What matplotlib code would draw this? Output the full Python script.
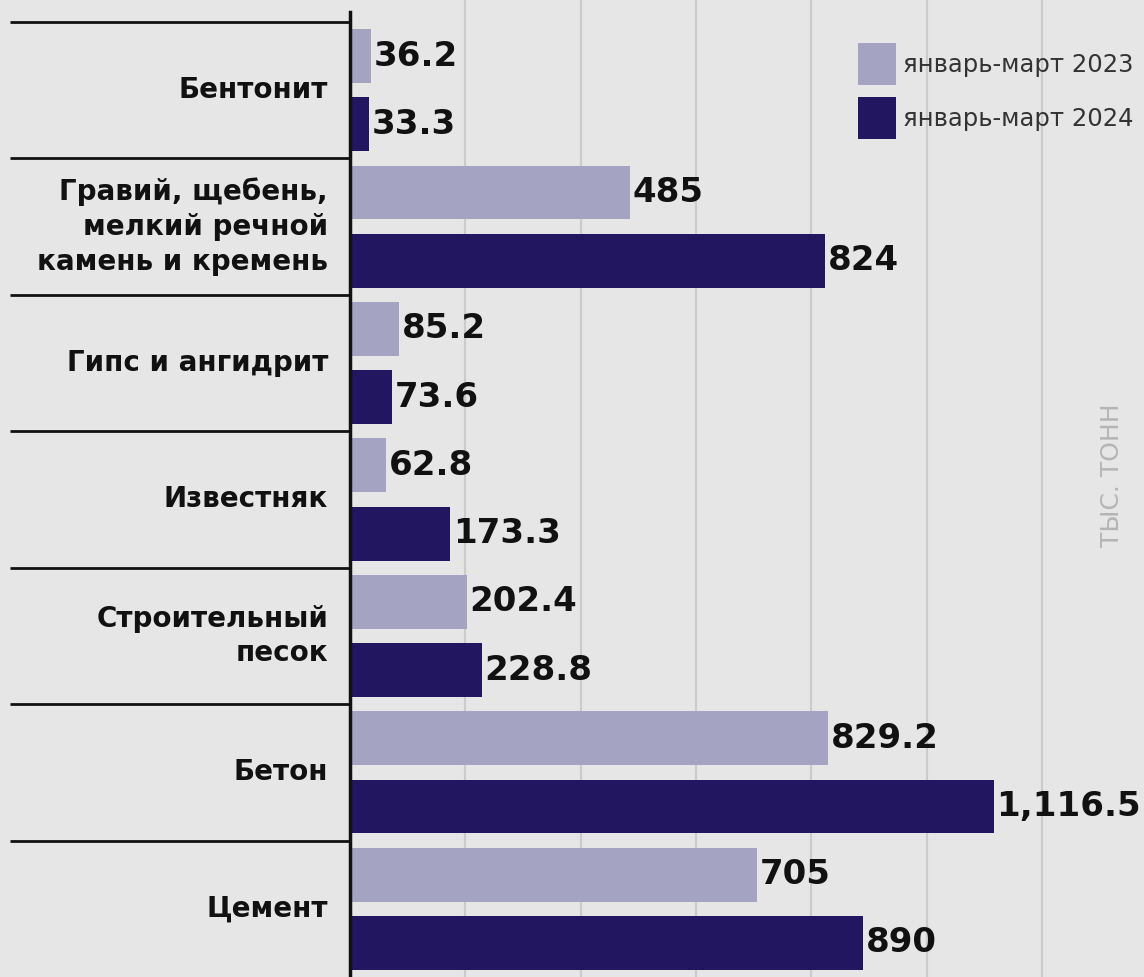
import numpy as np
import matplotlib
matplotlib.use("Agg")
import matplotlib.pyplot as plt

categories = ["Бентонит",
              "Гравий, щебень,\nмелкий речной\nкамень и кремень",
              "Гипс и ангидрит",
              "Известняк",
              "Строительный\nпесок",
              "Бетон",
              "Цемент"]
vals_2023 = [36.2, 485, 85.2, 62.8, 202.4, 829.2, 705]
vals_2024 = [33.3, 824, 73.6, 173.3, 228.8, 1116.5, 890]
series_names = ["январь-март 2023", "январь-март 2024"]
unit_label = "ТЫС. ТОНН"

bg = "#e6e6e6"
light = "#a5a3c2"
dark = "#221660"

W, H = 1144, 977
fig = plt.figure(figsize=(W / 100, H / 100), dpi=100, facecolor=bg)
ax = fig.add_axes([350 / W, 0, 794 / W, 1], facecolor=bg)

y = np.arange(len(categories))
h = 0.395
b1 = ax.barh(y - 0.25, vals_2023, height=h, color=light, zorder=3, label=series_names[0])
b2 = ax.barh(y + 0.25, vals_2024, height=h, color=dark, zorder=3, label=series_names[1])

fmt = lambda v: f"{v:,g}"
for bars, vals in ((b1, vals_2023), (b2, vals_2024)):
    ax.bar_label(bars, labels=[fmt(v) for v in vals], padding=2,
                 fontsize=24.5, fontweight="bold", color="#111111")

ax.set_xlim(0, 1377)
ax.set_ylim(6.5, -0.661)
ax.set_xticks(np.arange(200, 1400, 200))
ax.grid(axis="x", color="#cbcbcb", linewidth=1.5, zorder=0)
ax.tick_params(length=0, labelbottom=False, labelleft=False)
for s in ("top", "right", "bottom"):
    ax.spines[s].set_visible(False)
ax.spines["left"].set_linewidth(2.5)
ax.spines["left"].set_color("#111111")
ax.spines["left"].set_bounds(6.5, -0.573)
ax.spines["left"].set_zorder(5)

# group separators and category labels on the left
tr = ax.get_yaxis_transform()
x0 = (10 - 350) / 794
for b in np.arange(-0.5, 6.0, 1.0):
    ax.plot([x0, 0], [b, b], transform=tr, color="#111111", linewidth=2,
            clip_on=False, solid_capstyle="butt")
for i, c in enumerate(categories):
    ax.text(-22 / 794, i, c, transform=tr, ha="right", va="center",
            fontsize=20, fontweight="bold", color="#111111", linespacing=1.3)

leg = ax.legend(loc="upper left", bbox_to_anchor=(508 / 794, 1 - 43 / 977), frameon=False,
                fontsize=17.5, handlelength=1.56, handleheight=2.28, handletextpad=0.3,
                labelspacing=0.5, borderpad=0, borderaxespad=0, labelcolor="#333333")

fig.text(1112 / W, 1 - 475 / H, unit_label, rotation=90, ha="center", va="center",
         fontsize=18, color="#b5b5b5")

fig.savefig("out.png", dpi=100, facecolor=bg)
